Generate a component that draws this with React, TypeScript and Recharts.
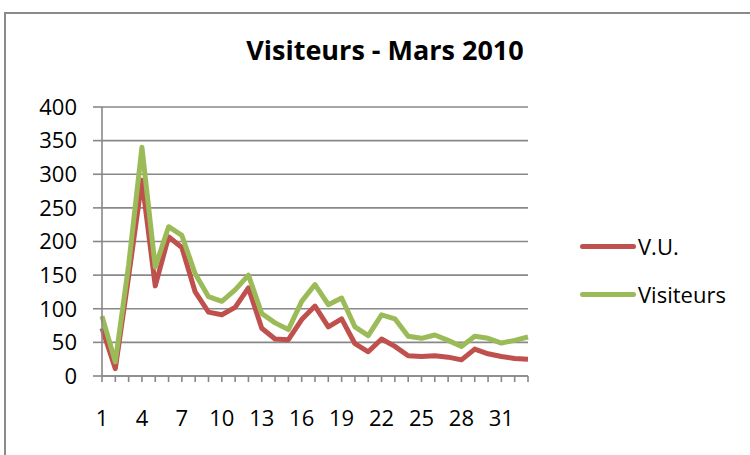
import React from 'react';
import { LineChart, Line, XAxis, YAxis, CartesianGrid } from 'recharts';

const days = [
  '1', '2', '3', '4', '5', '6', '7', '8', '9', '10', '11', '12', '13', '14', '15', '16', '17',
  '18', '19', '20', '21', '22', '23', '24', '25', '26', '27', '28', '29', '30', '31', '32', '33',
];
const vu = [
  71, 11, 148, 291, 134, 207, 191, 125, 95, 91, 102, 131, 71, 55, 54, 84, 104,
  73, 85, 48, 36, 55, 44, 30, 29, 30, 28, 24, 40, 33, 29, 26, 25,
];
const visiteurs = [
  89, 21, 165, 340, 162, 222, 209, 152, 118, 111, 128, 150, 93, 79, 69, 111, 136,
  106, 116, 73, 60, 91, 85, 59, 56, 61, 53, 44, 59, 56, 49, 53, 58,
];
const yTicks = [0, 50, 100, 150, 200, 250, 300, 350, 400];

const data = days.map((d, i) => ({ day: d, vu: vu[i], visiteurs: visiteurs[i] }));

const FONT = '"Open Sans", sans-serif';
const RED = '#C0504D';
const GREEN = '#9BBB59';
const GRID = '#888888';

const DayTick = ({ x, y, payload, index }: any) => {
  if (index % 3 !== 0) return null;
  return (
    <text x={x} y={y} dy="0.71em" textAnchor="middle" fill="#000" fontSize={22} fontFamily={FONT}>
      {payload.value}
    </text>
  );
};

const LegendRow = ({ color, label, top }: { color: string; label: string; top: number }) => (
  <div style={{ position: 'absolute', left: 580, top, display: 'flex', alignItems: 'center' }}>
    <div style={{ width: 56, height: 5, background: color, borderRadius: 3 }} />
    <span style={{ marginLeft: 2, fontSize: 22, lineHeight: '30px' }}>{label}</span>
  </div>
);

export default function App() {
  return (
    <div
      style={{
        position: 'absolute',
        left: 0,
        top: 0,
        width: 750,
        height: 455,
        overflow: 'hidden',
        background: '#fff',
        fontFamily: FONT,
      }}
    >
      <div
        style={{
          position: 'absolute',
          left: 4,
          top: 12,
          width: 800,
          height: 500,
          border: '2px solid #8a8a8a',
        }}
      />
      <div
        style={{
          position: 'absolute',
          left: 0,
          width: 770,
          top: 30,
          textAlign: 'center',
          fontWeight: 700,
          fontSize: 27,
          lineHeight: '40px',
        }}
      >
        Visiteurs - Mars 2010
      </div>
      <div style={{ position: 'absolute', left: 0, top: 0 }}>
        <LineChart width={750} height={455} data={data} margin={{ top: 107, right: 222, bottom: 19, left: 0 }}>
          <CartesianGrid vertical={false} stroke={GRID} strokeWidth={1.6} />
          <XAxis
            dataKey="day"
            interval={0}
            tick={<DayTick />}
            tickSize={6}
            tickMargin={28}
            height={60}
            axisLine={{ stroke: GRID, strokeWidth: 1.6 }}
            tickLine={{ stroke: GRID, strokeWidth: 1.6 }}
          />
          <YAxis
            domain={[0, 400]}
            ticks={yTicks}
            width={102}
            tickSize={9}
            tickMargin={16}
            axisLine={{ stroke: GRID, strokeWidth: 1.6 }}
            tickLine={{ stroke: GRID, strokeWidth: 1.6 }}
            tick={{ fill: '#000', fontSize: 22, fontFamily: FONT }}
          />
          <Line
            dataKey="vu"
            name="V.U."
            stroke={RED}
            strokeWidth={5}
            strokeLinejoin="round"
            dot={false}
            isAnimationActive={false}
          />
          <Line
            dataKey="visiteurs"
            name="Visiteurs"
            stroke={GREEN}
            strokeWidth={5}
            strokeLinejoin="round"
            dot={false}
            isAnimationActive={false}
          />
        </LineChart>
      </div>
      <LegendRow color={RED} label="V.U." top={231} />
      <LegendRow color={GREEN} label="Visiteurs" top={279} />
    </div>
  );
}
